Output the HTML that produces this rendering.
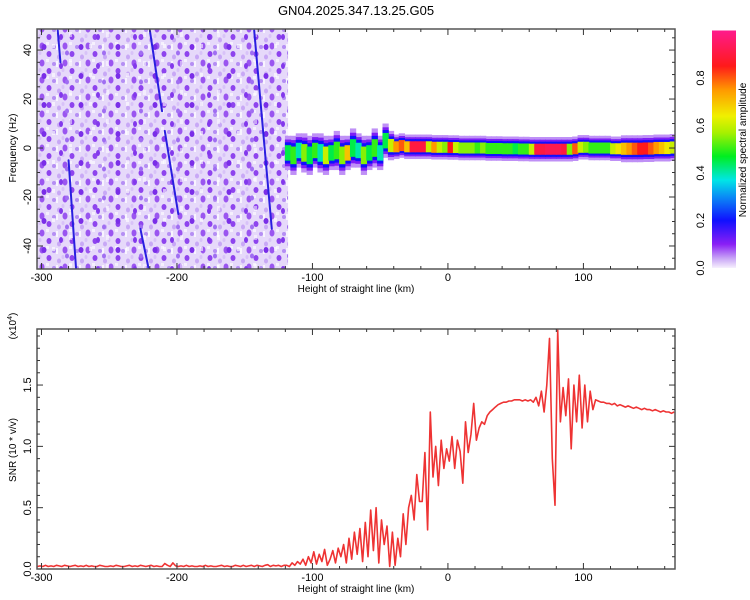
<!DOCTYPE html>
<html><head><meta charset="utf-8">
<style>
html,body{margin:0;padding:0;background:#fff;}
svg{display:block;font-family:"Liberation Sans",sans-serif;}
</style></head>
<body>
<svg id="chart" width="750" height="600" viewBox="0 0 750 600" xmlns="http://www.w3.org/2000/svg">
<defs>
<pattern id="noisePat" width="23" height="17" patternUnits="userSpaceOnUse">
<rect width="23" height="17" fill="#e6d9fa"/>
<ellipse cx="3" cy="3" rx="2.5" ry="3" fill="#8e44ee"/>
<ellipse cx="13" cy="6" rx="2" ry="2.5" fill="#c8a8f6"/>
<ellipse cx="19" cy="12" rx="2.5" ry="3.5" fill="#9a55f0"/>
<ellipse cx="8" cy="13" rx="2" ry="2" fill="#b58ef4"/>
<ellipse cx="17" cy="2" rx="1.5" ry="2" fill="#d8c2f8"/>
<rect x="10" y="10" width="2" height="6" fill="#ffffff" opacity="0.7"/>
<rect x="0" y="8" width="3" height="3" fill="#ffffff" opacity="0.6"/>
</pattern>
<pattern id="noisePat2" width="37" height="29" patternUnits="userSpaceOnUse">
<ellipse cx="7" cy="18" rx="2.5" ry="3" fill="#7a2ee8"/>
<ellipse cx="24" cy="8" rx="2" ry="3" fill="#8338ec"/>
<ellipse cx="30" cy="24" rx="2" ry="2.5" fill="#a06ef2"/>
<rect x="15" y="15" width="3" height="4" fill="#ffffff" opacity="0.6"/>
<rect x="32" y="3" width="3" height="5" fill="#ffffff" opacity="0.5"/>
</pattern>
<linearGradient id="cbGrad" x1="0" y1="1" x2="0" y2="0">
<stop offset="0" stop-color="#f6f0fd"/>
<stop offset="0.04" stop-color="#c9a6f6"/>
<stop offset="0.1" stop-color="#8a1ff5"/>
<stop offset="0.2" stop-color="#1010ff"/>
<stop offset="0.3" stop-color="#0a8cf5"/>
<stop offset="0.37" stop-color="#00e6e6"/>
<stop offset="0.47" stop-color="#00ee20"/>
<stop offset="0.57" stop-color="#a8f000"/>
<stop offset="0.64" stop-color="#f0f000"/>
<stop offset="0.75" stop-color="#ff9900"/>
<stop offset="0.85" stop-color="#ff1a1a"/>
<stop offset="1" stop-color="#ff1a8c"/>
</linearGradient>
<clipPath id="topClip"><rect x="37" y="29" width="638" height="240"/></clipPath>
<clipPath id="botClip"><rect x="37" y="329" width="638" height="240"/></clipPath>
</defs>
<text x="356" y="15" font-size="13" text-anchor="middle" fill="#000">GN04.2025.347.13.25.G05</text>
<g id="topPanel"></g>
<g id="botPanel"></g>
<g id="cbar"></g>
</svg>
<script>
const trackH = [-118,-114,-110,-106,-102,-98,-94,-90,-86,-82,-78,-74,-70,-66,-62,-58,-54,-50,-46,-42,-38,-34,-30,-26,-22,-18,-14,-10,-6,-2,2,6,10,14,18,22,26,30,34,38,42,46,50,54,58,62,66,70,74,78,82,86,90,94,98,102,106,110,114,118,122,126,130,134,138,142,146,150,154,158,162,166];
const trackF = [-2,-3,-1,-2,-3,-1,-2,-3,-2,-1,-3,-2,0,-1,-3,-2,0,-2,3,1,0.5,1,0.5,0.5,0.5,0.5,0.5,0.3,0.3,0.3,0.2,0.2,0,0,0,0,0,-0.2,-0.2,-0.2,-0.3,-0.3,-0.3,-0.4,-0.4,-0.5,-0.5,-0.5,-0.5,-0.5,-0.5,-0.5,-0.5,-0.3,0.3,0.3,0,0,0,0,-0.3,-0.3,-0.3,-0.3,-0.3,-0.3,-0.2,-0.2,0,0,0,0.2];
const trackA = [0.45,0.5,0.4,0.55,0.45,0.5,0.4,0.6,0.45,0.5,0.55,0.7,0.45,0.4,0.55,0.45,0.5,0.4,0.45,0.6,0.75,0.8,0.7,0.9,0.9,0.9,0.6,0.75,0.6,0.55,0.85,0.6,0.55,0.55,0.55,0.5,0.55,0.5,0.5,0.5,0.5,0.5,0.45,0.5,0.5,0.6,0.9,0.9,0.92,0.92,0.92,0.9,0.55,0.8,0.6,0.55,0.5,0.5,0.5,0.5,0.6,0.65,0.7,0.75,0.8,0.85,0.85,0.8,0.75,0.7,0.65,0.6];
const trackW = [7,8,7,8,8,7,8,8,7,8,8,7,8,7,8,7,8,7,7,6,5,5,5,5,5,5,5,5,5,5,5,5,5,5,5,5,5,5,5,5,5,5,5,5,5,5,5,5,5,5,5,5,5,5,5,5,5,5,5,5,5,5,5.5,5.5,5.5,5.5,5.5,5.5,5.5,5.5,5.5,5.5];
const streakH0 = [-280,-220,-209,-143,-227,-288];
const streakF0 = [-5,48,7,48,-33,48];
const streakH1 = [-274.5,-211,-199,-130,-221,-286];
const streakF1 = [-49,15,-27,-33,-49,35];
const snrStart = -303, snrStep = 2;
const snrValues = [
0.02,0.025,0.02,0.03,0.02,0.025,0.02,0.03,0.025,0.02,0.03,0.025,0.02,0.025,0.03,0.02,0.025,0.02,0.03,0.02,
0.025,0.02,0.02,0.03,0.025,0.02,0.02,0.025,0.02,0.03,0.025,0.02,0.02,0.025,0.03,0.02,0.025,0.02,0.03,0.025,
0.02,0.025,0.03,0.02,0.025,0.02,0.02,0.045,0.03,0.02,0.05,0.025,0.02,0.025,0.02,0.03,0.02,0.025,0.02,0.02,
0.025,0.02,0.03,0.02,0.025,0.02,0.02,0.025,0.03,0.02,0.025,0.02,0.02,0.03,0.025,0.02,0.03,0.02,0.025,0.03,
0.02,0.03,0.025,0.02,0.03,0.035,0.02,0.03,0.025,0.03,0.02,0.03,
0.03,0.02,0.05,0.03,0.06,0.04,0.08,0.03,0.1,0.05,
0.14,0.04,0.12,0.06,0.16,0.03,0.08,0.15,0.05,0.17,
0.1,0.2,0.05,0.25,0.08,0.3,0.12,0.33,0.06,0.38,
0.1,0.48,0.15,0.5,0.05,0.4,0.2,0.35,0.02,0.3,
0.03,0.25,0.1,0.45,0.2,0.5,0.6,0.4,0.77,0.55,
0.55,0.95,0.32,1.28,0.75,1.0,0.68,1.05,0.82,0.98,
0.88,1.08,0.82,1.05,0.96,0.7,1.2,0.95,1.1,1.35,
1.05,1.15,1.2,1.18,1.25,1.28,1.3,1.32,1.34,1.35,
1.36,1.36,1.37,1.37,1.38,1.38,1.38,1.37,1.38,1.37,
1.38,1.36,1.4,1.33,1.45,1.28,1.5,1.88,0.9,0.52,
1.95,1.2,1.48,1.25,1.55,0.98,1.5,1.2,1.58,1.15,
1.5,1.2,1.45,1.3,1.38,1.37,1.36,1.36,1.35,1.35,
1.34,1.35,1.33,1.34,1.33,1.32,1.33,1.32,1.31,1.32,1.31,1.3,1.31,1.3,1.3,1.29,1.3,1.29,1.28,1.29,1.28,1.28,1.27,1.28];
const xTicks = [-300,-200,-100,0,100];
const fTicks = [-40,-20,0,20,40];
const snrTicks = [0.0,0.5,1.0,1.5];
const cbTicks = [0.0,0.2,0.4,0.6,0.8];

const NS = 'http://www.w3.org/2000/svg';
function mk(tag, attrs, parent){const e=document.createElementNS(NS,tag);for(const k in attrs)e.setAttribute(k,attrs[k]);parent.appendChild(e);return e;}
const L=37,R=675,TT=29,TB=269,BT=329,BB=569;
const hMin=-303.3,hMax=167.6;
const xS = h => L+(h-hMin)/(hMax-hMin)*(R-L);
const fMin=-49.4,fMax=48.6;
const yF = f => TB-(f-fMin)/(fMax-fMin)*(TB-TT);
const sMax=1.957;
const yS = v => BB-v/sMax*(BB-BT);
const cbTop=30.5, cbBot=268;
const yC = v => cbBot - v*(cbBot-cbTop);

const stops=[[0,[246,240,253]],[0.04,[201,166,246]],[0.1,[138,31,245]],[0.2,[16,16,255]],[0.3,[10,140,245]],[0.37,[0,230,230]],[0.47,[0,238,32]],[0.57,[168,240,0]],[0.64,[240,240,0]],[0.75,[255,153,0]],[0.85,[255,26,26]],[1,[255,26,140]]];
function cmap(v){v=Math.max(0,Math.min(1,v));for(let i=1;i<stops.length;i++){if(v<=stops[i][0]){const a=stops[i-1],b=stops[i];const t=(v-a[0])/(b[0]-a[0]);const c=a[1].map((x,j)=>Math.round(x+(b[1][j]-x)*t));return `rgb(${c[0]},${c[1]},${c[2]})`;}}return 'rgb(255,26,140)';}

const topG=document.getElementById('topPanel');
const plot=mk('g',{'clip-path':'url(#topClip)'},topG);


const nr=mk('rect',{x:L,y:TT,width:xS(-118)-L,height:TB-TT,fill:'url(#noisePat)'},plot);


const nr2=mk('rect',{x:L,y:TT,width:xS(-118)-L,height:TB-TT,fill:'url(#noisePat2)'},plot);


for(let i=0;i<streakH0.length;i++){
  const s=mk('line',{x1:xS(streakH0[i]),y1:yF(streakF0[i]),x2:xS(streakH1[i]),y2:yF(streakF1[i]),stroke:'#2a1ee0','stroke-width':2,'stroke-linecap':'round'},plot);
  
  
}
const layers=[[1.0,0.05],[0.78,0.11],[0.62,0.2],[0.45,1]];
layers.forEach(([wf,af])=>{
  for(let i=0;i<trackH.length;i++){
    const x0=xS(trackH[i]-2.3), x1=xS(trackH[i]+2.3);
    const hw=trackW[i]*wf;
    const a = af===1?trackA[i]:af;
    const r=mk('rect',{x:x0,y:yF(trackF[i]+hw),width:x1-x0,height:yF(trackF[i]-hw)-yF(trackF[i]+hw),fill:cmap(a)},plot);
    
    
  }
});

function frame(g,top_,bot_,name){
  const f=mk('rect',{x:L,y:top_,width:R-L,height:bot_-top_,fill:'none',stroke:'#555','stroke-width':1.5},g);
  
  
}
function xAxis(g,top_,bot_){
  for(let h=-300;h<=160;h+=20){
    const maj=h%100===0, len=maj?6:3;
    mk('line',{x1:xS(h),y1:bot_,x2:xS(h),y2:bot_-len,stroke:'#333','stroke-width':1},g);
    mk('line',{x1:xS(h),y1:top_,x2:xS(h),y2:top_+len,stroke:'#333','stroke-width':1},g);
  }
  xTicks.forEach(t=>{const tx=mk('text',{x:xS(t),y:bot_+12,'font-size':11,'text-anchor':'middle'},g);tx.textContent=String(t);
    
    });
  const ti=mk('text',{x:356,y:bot_+23,'font-size':10,'text-anchor':'middle'},g);ti.textContent='Height of straight line (km)';
  
  
}
frame(topG,TT,TB,'spectrogram-frame');
xAxis(topG,TT,TB);
for(let f=-45;f<=45;f+=5){const maj=f%20===0,len=maj?6:3;
  mk('line',{x1:L,y1:yF(f),x2:L+len,y2:yF(f),stroke:'#333'},topG);
  mk('line',{x1:R,y1:yF(f),x2:R-len,y2:yF(f),stroke:'#333'},topG);}
fTicks.forEach(t=>{const tx=mk('text',{x:0,y:0,'font-size':11,'text-anchor':'middle',transform:`translate(${L-6},${yF(t)}) rotate(-90)`},topG);tx.textContent=String(t);
  
  });
const yt=mk('text',{x:0,y:0,'font-size':10,'text-anchor':'middle',transform:`translate(16,${yF(0)}) rotate(-90)`},topG);yt.textContent='Frequency (Hz)';



const botG=document.getElementById('botPanel');
const bp=mk('g',{'clip-path':'url(#botClip)'},botG);
let d='';
snrValues.forEach((v,i)=>{const h=snrStart+i*snrStep;d+=(i?'L':'M')+xS(h).toFixed(1)+','+yS(v).toFixed(1);});
const line=mk('path',{d:d,fill:'none',stroke:'#ee3333','stroke-width':1.6,'stroke-linejoin':'round'},bp);


frame(botG,BT,BB,'snr-frame');
xAxis(botG,BT,BB);
for(let v=0.1;v<1.95;v+=0.1){const maj=Math.abs(v*2-Math.round(v*2))<1e-6,len=maj?6:3;
  mk('line',{x1:L,y1:yS(v),x2:L+len,y2:yS(v),stroke:'#333'},botG);
  mk('line',{x1:R,y1:yS(v),x2:R-len,y2:yS(v),stroke:'#333'},botG);}
snrTicks.forEach(t=>{const tx=mk('text',{x:0,y:0,'font-size':11,'text-anchor':'middle',transform:`translate(${L-6},${yS(t)}) rotate(-90)`},botG);tx.textContent=t.toFixed(1);
  
  });
const st=mk('text',{x:0,y:0,'font-size':10,'text-anchor':'middle',transform:`translate(16,450) rotate(-90)`},botG);st.textContent='SNR (10 * v/v)';


const ex=mk('text',{x:0,y:0,'font-size':10,'text-anchor':'middle',transform:`translate(16,326) rotate(-90)`},botG);
ex.innerHTML='(x10<tspan dy="-4" font-size="7">4</tspan><tspan dy="4">)</tspan>';



const cb=document.getElementById('cbar');
mk('rect',{x:712,y:cbTop,width:24,height:cbBot-cbTop,fill:'url(#cbGrad)'},cb);
cbTicks.forEach(t=>{const tx=mk('text',{x:0,y:0,'font-size':11,'text-anchor':'middle',transform:`translate(704,${yC(t)}) rotate(-90)`},cb);tx.textContent=t.toFixed(1);
  
  });
const ct=mk('text',{x:0,y:0,'font-size':10,'text-anchor':'middle',transform:`translate(746,150) rotate(-90)`},cb);ct.textContent='Normalized spectral amplitude';


</script>
</body></html>
